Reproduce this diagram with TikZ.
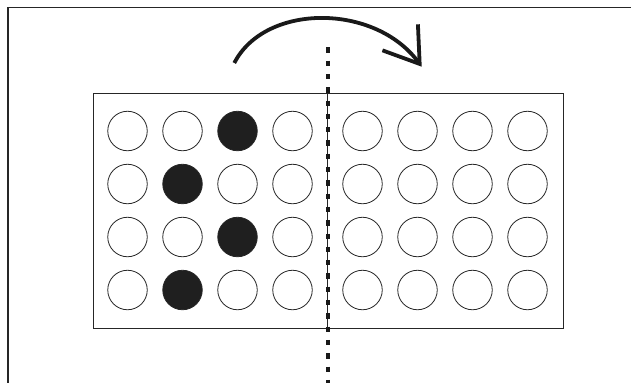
\documentclass[tikz,border=0pt]{standalone}
\usetikzlibrary{arrows.meta}

\begin{document}
\begin{tikzpicture}[
  x=1pt, y=-1pt,
  line/.style={draw=black!85, line width=1.3pt},
  hole/.style={circle, draw=black!85, line width=0.8pt, fill=white, minimum size=39.5pt, inner sep=0pt},
  peg/.style={hole, fill=black!88},
  axis/.style={draw=black!90, line width=4pt, dash pattern=on 5.3pt off 8pt},
  turn/.style={draw=black!90, line width=3.8pt, -{Straight Barb[length=33pt, width=44pt]}},
]
\useasboundingbox (0,0) rectangle (631,383);

% outer frame, cut by the page
\draw[line] (631,7.5) -- (8,7.5) -- (8,383);

% board
\node[line, minimum width=470.5pt, minimum height=235.2pt, inner sep=0pt, anchor=north west] (board) at (92.5,92.5) {};

% holes and pegs
\foreach \r/\f in {1/3,2/2,3/3,4/2}
  \foreach \c in {1,...,8} {
    \pgfmathsetmacro\cx{127.5+55*(\c-1)+15*(\c>4)}
    \pgfmathsetmacro\cy{131+53*(\r-1)}
    \def\kind{hole}
    \ifnum\c=\f \def\kind{peg}\fi
    \node[\kind] (c\r\c) at (\cx,\cy) {};
  }

% fold axis
\coordinate (axtop) at (327.5,47.3);
\coordinate (axbot) at (327.5,383);
\draw[line width=1.2pt, black!85] (board.north -| axtop) -- (board.south -| axtop);
\draw[axis] (axtop) -- (axbot);

% turning arrow
\coordinate (turnstart) at (234.3,63);
\coordinate (turnend) at (421.7,66.7);
\draw[turn] (turnstart) .. controls (265,3) and (375,3) .. (turnend);
\end{tikzpicture}
\end{document}
